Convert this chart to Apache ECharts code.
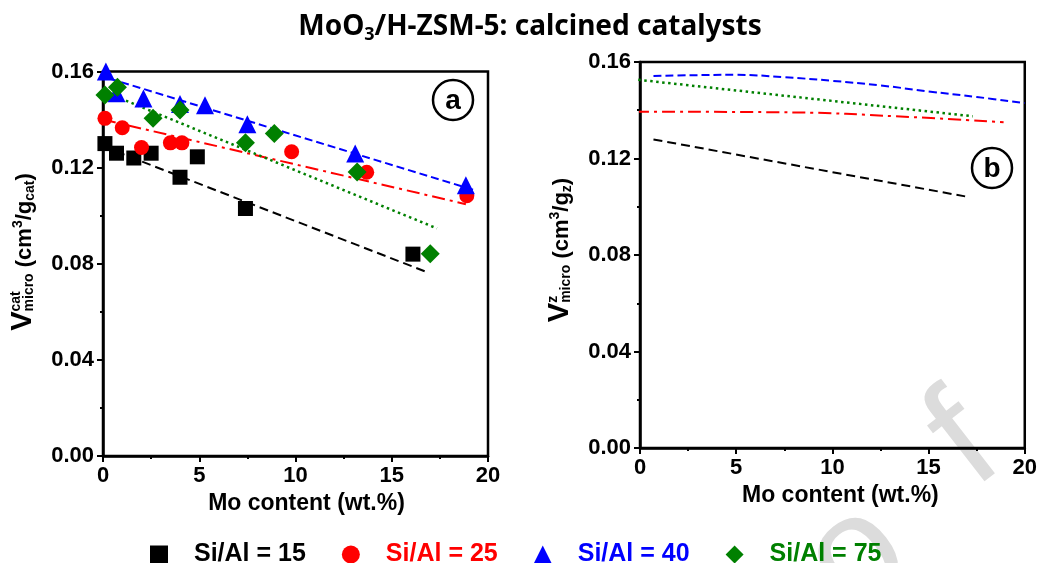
<!DOCTYPE html>
<html>
<head>
<meta charset="utf-8">
<script src="https://cdn.jsdelivr.net/npm/echarts@6.0.0/dist/echarts.min.js"></script>
<style>
html, body { margin: 0; padding: 0; background: #fff; }
#main { width: 1040px; height: 563px; }
</style>
</head>
<body>
<div id="main"></div>
<script>
// (a) measured micropore volume per g catalyst
var mo_15 = [0.1, 0.7, 1.6, 2.5, 4.0, 4.9, 7.4, 16.1];
var v_15 = [0.130, 0.126, 0.124, 0.126, 0.116, 0.1245, 0.103, 0.084];
var mo_25 = [0.1, 1.0, 2.0, 3.5, 4.1, 9.8, 13.7, 18.9];
var v_25 = [0.1405, 0.1366, 0.1284, 0.1303, 0.1303, 0.1266, 0.1181, 0.1083];
var mo_40 = [0.15, 0.7, 2.1, 4.0, 5.3, 7.5, 13.1, 18.85];
var v_40 = [0.160, 0.1509, 0.1488, 0.1465, 0.146, 0.1381, 0.1259, 0.1127];
var mo_75 = [0.1, 0.75, 2.6, 4.0, 7.4, 8.9, 13.2, 17.0];
var v_75 = [0.1502, 0.1534, 0.1405, 0.144, 0.1303, 0.1342, 0.1182, 0.0842];

// (a) fitted lines
var fit15_x = [0, 16.8], fit15_y = [0.1288, 0.0766];
var fit25_x = [0, 18.85], fit25_y = [0.1400, 0.1048];
var fit40_x = [-0.25, 19.3], fit40_y = [0.1585, 0.1106];
var fit75_x = [-0.25, 17.35], fit75_y = [0.1526, 0.0947];

// (b) per g zeolite
var z15_x = [0.7, 16.9], z15_y = [0.1279, 0.1043];
var z25_x = [-0.2, 8.1, 13.3, 18.9], z25_y = [0.1394, 0.1391, 0.1375, 0.1350];
var z40_x = [0.7, 2.5, 5, 7.5, 10, 12.5, 15, 17.5, 20];
var z40_y = [0.1542, 0.1545, 0.1547, 0.1537, 0.1522, 0.1503, 0.1478, 0.1455, 0.1430];
var z75_x = [-0.4, 17.3], z75_y = [0.1529, 0.1375];

var names = ['Si/Al = 15', 'Si/Al = 25', 'Si/Al = 40', 'Si/Al = 75'];
var colors = ['#000000', '#ff0000', '#0000ff', '#008000'];

var FONT = '"Liberation Sans", Arial, sans-serif';

function pairs(xs, ys) {
	return xs.map(function (x, i) { return [x, ys[i]]; });
}

var ctx = document.createElement('canvas').getContext('2d');
function textW(t, size) {
	ctx.font = 'bold ' + size + 'px ' + FONT;
	return ctx.measureText(t).width;
}

// rotated axis name built from pieces (sup/sub need separate texts)
function yName(cx, cy, pieces) {
	var total = 0;
	pieces.forEach(function (p) {
		var list = p.stack || [p];
		p.w = Math.max.apply(null, list.map(function (s) { return textW(s.t, s.size); }));
		total += p.w;
	});
	var x = -total / 2, children = [];
	pieces.forEach(function (p) {
		(p.stack || [p]).forEach(function (s) {
			children.push({
				type: 'text', x: x, y: s.dy,
				style: {
					text: s.t, font: 'bold ' + s.size + 'px ' + FONT, fill: '#000',
					align: 'left', verticalAlign: 'middle', textAlign: 'left', textVerticalAlign: 'middle'
				}
			});
		});
		x += p.w;
	});
	return { type: 'group', x: cx, y: cy, rotation: Math.PI / 2, children: children };
}

function label(cx, cy, t) {
	return [
		{ type: 'circle', shape: { cx: cx, cy: cy, r: 20 }, style: { fill: 'none', stroke: '#000', lineWidth: 2.5 } },
		{ type: 'text', x: cx, y: cy + 1, style: { text: t, font: 'bold 28px ' + FONT, fill: '#000', align: 'center', verticalAlign: 'middle', textAlign: 'center', textVerticalAlign: 'middle' } }
	];
}

function xAxisCfg(idx, gap, shift) {
	return {
		gridIndex: idx, type: 'value', min: 0, max: 20, interval: 5,
		name: 'Mo content (wt.%)', nameLocation: 'middle', nameGap: gap,
		nameTextStyle: { color: '#000', fontSize: 23, fontWeight: 'bold', fontFamily: FONT, padding: [0, 0, 0, shift] },
		axisLine: { onZero: false, lineStyle: { color: '#000', width: 2.5 } },
		axisTick: { inside: false, length: 6, lineStyle: { color: '#000', width: 2 } },
		minorTick: { show: true, splitNumber: 2, length: 3, lineStyle: { color: '#000', width: 2 } },
		axisLabel: { color: '#000', fontSize: 22, fontWeight: 'bold', fontFamily: FONT, margin: 9 },
		splitLine: { show: false }
	};
}

function yAxisCfg(idx) {
	return {
		gridIndex: idx, type: 'value', min: 0, max: 0.16, interval: 0.04,
		axisLine: { onZero: false, lineStyle: { color: '#000', width: 2.5 } },
		axisTick: { inside: false, length: 6, lineStyle: { color: '#000', width: 2 } },
		minorTick: { show: true, splitNumber: 2, length: 3, lineStyle: { color: '#000', width: 2 } },
		axisLabel: { color: '#000', fontSize: 22, fontWeight: 'bold', fontFamily: FONT, margin: 9,
			formatter: function (v) { return v.toFixed(2); } },
		splitLine: { show: false }
	};
}

function fitLine(name, idx, xs, ys, color, dash, width) {
	return {
		name: name, type: 'line', xAxisIndex: idx, yAxisIndex: idx,
		data: pairs(xs, ys), showSymbol: false, symbol: 'none', clip: false, z: 2,
		smooth: xs.length > 2 ? 0.4 : false,
		lineStyle: { color: color, width: width, type: dash, cap: 'butt' }
	};
}

function points(i, xs, ys, symbol, size) {
	return {
		name: names[i], type: 'scatter', xAxisIndex: 0, yAxisIndex: 0,
		data: pairs(xs, ys), symbol: symbol, symbolSize: size, z: 3,
		itemStyle: { color: colors[i], opacity: 1 }
	};
}

var chart = echarts.init(document.getElementById('main'));

var option = {
	animation: false,
	backgroundColor: '#fff',
	title: {
		text: '{b|MoO}{s|3}{b|/H-ZSM-5: calcined catalysts}',
		left: 525, top: 5, textAlign: 'center',
		textStyle: {
			rich: {
				b: { fontSize: 28, fontWeight: 'bold', fontFamily: '"Noto Sans", sans-serif', color: '#000', lineHeight: 34 },
				s: { fontSize: 18, fontWeight: 'bold', fontFamily: '"Noto Sans", sans-serif', color: '#000', lineHeight: 18, verticalAlign: 'bottom' }
			}
		}
	},
	legend: {
		left: 145, top: 537, itemGap: 36, itemWidth: 18, itemHeight: 18,
		selectedMode: false,
		textStyle: { fontSize: 25, fontWeight: 'bold', fontFamily: FONT, padding: [0, 0, 0, 21] },
		data: [
			{ name: names[0], icon: 'rect', textStyle: { color: colors[0] } },
			{ name: names[1], icon: 'circle', textStyle: { color: colors[1] } },
			{ name: names[2], icon: 'triangle', textStyle: { color: colors[2] } },
			{ name: names[3], icon: 'diamond', textStyle: { color: colors[3] } }
		]
	},
	grid: [
		{ left: 103, top: 71.5, width: 385, height: 384.5, show: true, borderColor: '#000', borderWidth: 2.5, backgroundColor: 'transparent' },
		{ left: 640, top: 62, width: 386, height: 386, show: true, borderColor: '#000', borderWidth: 2.5, backgroundColor: 'transparent' }
	],
	xAxis: [xAxisCfg(0, 35, 22), xAxisCfg(1, 35, 16)],
	yAxis: [yAxisCfg(0), yAxisCfg(1)],
	series: [
		fitLine('fit 15', 0, fit15_x, fit15_y, colors[0], [9, 5], 2),
		fitLine('fit 25', 0, fit25_x, fit25_y, colors[1], [13, 5, 3, 5], 2),
		fitLine('fit 40', 0, fit40_x, fit40_y, colors[2], [8, 4], 2),
		fitLine('fit 75', 0, fit75_x, fit75_y, colors[3], [2.5, 3.5], 2.5),
		points(0, mo_15, v_15, 'rect', 15),
		points(1, mo_25, v_25, 'circle', 15),
		points(2, mo_40, v_40, 'triangle', 18),
		points(3, mo_75, v_75, 'diamond', 19),
		fitLine('z 40', 1, z40_x, z40_y, colors[2], [8, 4], 2),
		fitLine('z 75', 1, z75_x, z75_y, colors[3], [2.5, 3.5], 2.5),
		fitLine('z 25', 1, z25_x, z25_y, colors[1], [13, 5, 3, 5], 2),
		fitLine('z 15', 1, z15_x, z15_y, colors[0], [9, 5], 2)
	],
	graphic: [
		// watermark remains
		{ type: 'text', x: 857, y: 558, rotation: 0.66, z: -10, silent: true,
			style: { text: 'o', font: '150px ' + FONT, fill: '#dcdcdc', align: 'center', verticalAlign: 'middle', textAlign: 'center', textVerticalAlign: 'middle' } },
		{ type: 'text', x: 965, y: 444, rotation: 0.66, z: -10, silent: true,
			style: { text: 'f', font: '150px ' + FONT, fill: '#dcdcdc', align: 'center', verticalAlign: 'middle', textAlign: 'center', textVerticalAlign: 'middle' } },
		yName(25, 252, [
			{ t: 'V', size: 29, dy: -2 },
			{ stack: [{ t: 'cat', size: 14, dy: -9 }, { t: 'micro', size: 14, dy: 4 }] },
			{ t: ' (cm', size: 22, dy: 0 },
			{ t: '3', size: 14, dy: -7 },
			{ t: '/g', size: 22, dy: 0 },
			{ t: 'cat', size: 14, dy: 5 },
			{ t: ')', size: 22, dy: 0 }
		]),
		yName(562, 250, [
			{ t: 'V', size: 29, dy: -2 },
			{ stack: [{ t: 'z', size: 14, dy: -9 }, { t: 'micro', size: 14, dy: 4 }] },
			{ t: ' (cm', size: 22, dy: 0 },
			{ t: '3', size: 14, dy: -7 },
			{ t: '/g', size: 22, dy: 0 },
			{ t: 'z', size: 14, dy: 5 },
			{ t: ')', size: 22, dy: 0 }
		])
	].concat(label(453, 100, 'a'), label(992, 168, 'b'))
};

chart.setOption(option);
</script>
</body>
</html>
